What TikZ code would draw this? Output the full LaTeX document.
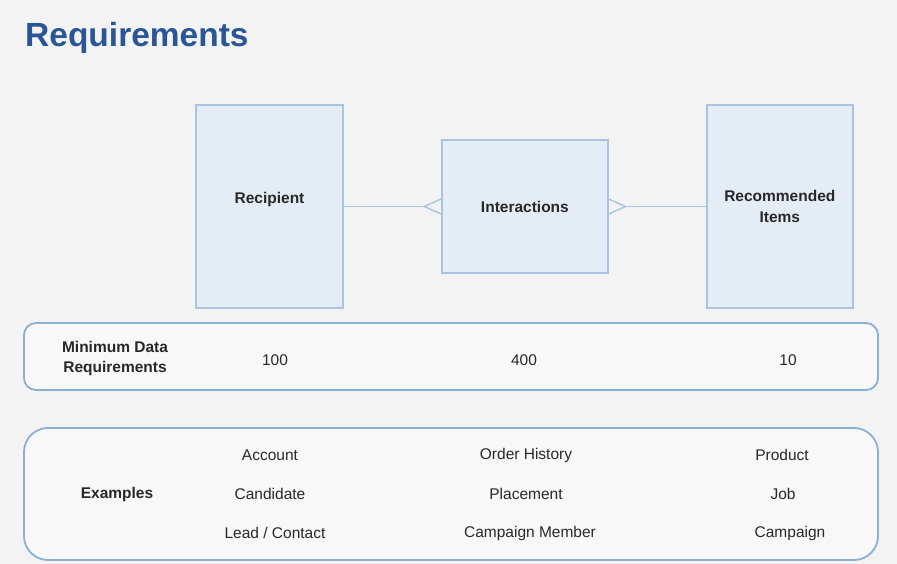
\documentclass[tikz,border=0pt]{standalone}
\usepackage{fontspec}
\setmainfont{Liberation Sans}
\usetikzlibrary{calc,positioning}
\definecolor{rqback}{RGB}{243,243,243}
\definecolor{rqblue}{RGB}{42,86,150}
\definecolor{rqfill}{RGB}{228,236,246}
\definecolor{rqedge}{RGB}{168,196,224}
\definecolor{rqband}{RGB}{138,176,212}
\definecolor{rqtext}{RGB}{40,40,40}

\begin{document}
\begin{tikzpicture}[x=1pt,y=-1pt,node distance=97.5pt,
    font=\fontsize{15.5}{19}\selectfont,text=rqtext,
    entity/.style={draw=rqedge,line width=1.4pt,fill=rqfill,font=\fontsize{15.5}{21}\selectfont\bfseries,align=center,inner sep=0pt},
    band/.style={draw=rqband,line width=1.8pt,fill=rqback!60!white,minimum width=854pt,inner sep=0pt},
    link/.style={draw=rqedge,line width=1.4pt}]
  % page
  \fill[rqback] (0,0) rectangle (897,564);
  \useasboundingbox (0,0) rectangle (897,564);
  \node[anchor=base west,inner sep=0pt,text=rqblue,font=\fontsize{33.5}{40}\selectfont\bfseries] (title) at (25,47) {Requirements};

  % entities
  \node[entity,minimum width=147pt,minimum height=203pt,text height=11pt,text depth=16pt] (rec) at (269.5,206.5) {Recipient};
  \node[entity,minimum width=166pt,minimum height=133pt,right=of rec] (int) {Interactions};
  \node[entity,minimum width=146pt,minimum height=203pt,right=of int] (item) {Recommended\\Items};

  % many-sides on the interactions box
  \draw[link] (rec.east) -- ($(int.west)+(-17,0)$) coordinate (cf1);
  \draw[link] ($(int.west)+(0,-7.5)$) -- (cf1) -- ($(int.west)+(0,7.5)$);
  \draw[link] (item.west) -- ($(int.east)+(17,0)$) coordinate (cf2);
  \draw[link] ($(int.east)+(0,-7.5)$) -- (cf2) -- ($(int.east)+(0,7.5)$);

  % minimum data band
  \node[band,minimum height=67pt,rounded corners=12pt] (min) at (451,356.5) {};
  \node[align=center,font=\fontsize{15.5}{20}\selectfont\bfseries] (minlbl) at (115,358) {Minimum Data\\Requirements};
  \node (min1) at (275,360) {100};
  \node (min2) at (524,360) {400};
  \node (min3) at (788,360) {10};

  % examples band
  \node[band,minimum height=132pt,rounded corners=24pt] (ex) at (451,494) {};
  \node[font=\fontsize{15.5}{19}\selectfont\bfseries] (exlbl) at (117,494) {Examples};
  \node (ex1a) at (270,455) {Account};
  \node (ex1b) at (270,494) {Candidate};
  \node (ex1c) at (275,533) {Lead / Contact};
  \node (ex2a) at (526,455) {Order History};
  \node (ex2b) at (526,494) {Placement};
  \node (ex2c) at (530,533) {Campaign Member};
  \node (ex3a) at (782,455) {Product};
  \node (ex3b) at (783,494) {Job};
  \node (ex3c) at (790,533) {Campaign};
\end{tikzpicture}
\end{document}
